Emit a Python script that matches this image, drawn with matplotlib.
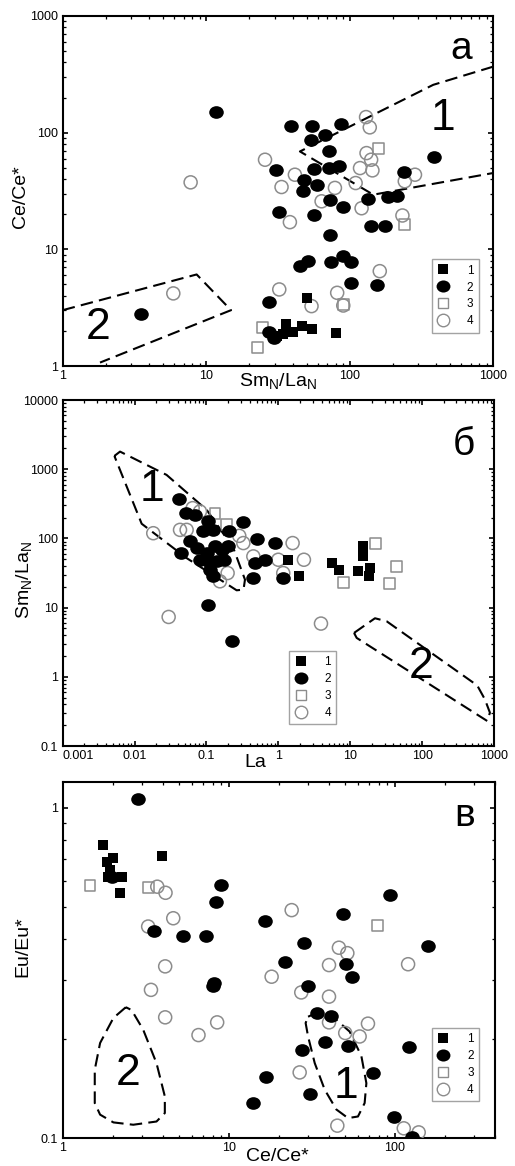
import matplotlib
matplotlib.use("Agg")
import matplotlib.pyplot as plt
from matplotlib.path import Path
from matplotlib.transforms import Affine2D
from matplotlib.lines import Line2D
from matplotlib.ticker import LogLocator, FixedLocator, FuncFormatter, NullFormatter

plt.rcParams['font.family'] = ['Liberation Sans', 'DejaVu Sans']
plt.rcParams['mathtext.fontset'] = 'custom'
plt.rcParams['mathtext.rm'] = 'Liberation Sans'

# ---------------- panel а: Ce/Ce* vs SmN/LaN ----------------
a_s1_x = [50.6, 35.9, 46.2, 54.2, 40.4, 30.9, 34.4, 80.1]
a_s1_y = [3.79, 2.27, 2.20, 2.06, 1.95, 1.81, 1.87, 1.93]
a_s2_x = [11.7, 39.2, 54.6, 86.3, 67.2, 53.7, 71.6, 386, 30.6, 56.0, 72.0, 84.5,
          48.2, 47.4, 58.8, 239, 32.3, 56.6, 72.8, 89.2, 134, 185, 215, 140,
          175, 72.8, 44.8, 51.2, 74.0, 90.2, 102.5, 102, 156, 27.5, 3.53, 27.5, 29.5]
a_s2_y = [149, 114, 113, 118, 94.6, 85.8, 69.9, 61.4, 48.1, 48.7, 49.7, 52.1,
          39.5, 31.8, 35.8, 45.7, 21.0, 19.8, 26.3, 22.9, 27.0, 28.1, 28.8, 15.8,
          15.8, 13.3, 7.17, 8.01, 7.86, 8.73, 7.86, 5.10, 4.90, 3.53, 2.77, 1.95, 1.75]
a_s3_x = [158, 240, 90.2, 24.7, 22.7]
a_s3_y = [73.8, 16.3, 3.36, 2.13, 1.44]
a_s4_x = [7.79, 5.90, 25.7, 41.5, 33.5, 38.3, 32.3, 54.2, 63.7, 78.9, 81.8, 130,
          138, 131, 141, 118, 144, 110, 121, 233, 242, 285, 162, 90.2]
a_s4_y = [37.5, 4.19, 58.6, 43.6, 34.2, 17.1, 4.53, 3.26, 25.8, 33.6, 4.24, 136,
          111, 66.8, 58.6, 49.7, 47.5, 37.0, 22.5, 19.5, 38.3, 43.6, 6.50, 3.30]
a_field1_x = [1000, 382, 45, 146, 1000]
a_field1_y = [368, 257, 69, 29.4, 45.1]
a_field2_x = [1.0, 8.58, 14.9, 1.82]
a_field2_y = [3.01, 6.09, 3.01, 1.07]
a_xticks = [1, 10, 100, 1000]
a_yticks = [1, 10, 100, 1000]

# ---------------- panel б: SmN/LaN vs La ----------------
b_s1_x = [1.38, 1.96, 5.51, 7.05, 14.9, 14.9, 12.9, 18.8, 18.4]
b_s1_y = [49.2, 28.3, 44.1, 34.5, 76.7, 55.0, 33.4, 37.3, 28.9]
b_s2_x = [0.0415, 0.0514, 0.0692, 0.106, 0.125, 0.0903, 0.208, 0.326, 0.499, 0.897,
          0.059, 0.0443, 0.0731, 0.1007, 0.1316, 0.1626, 0.2014, 0.0813, 0.112,
          0.139, 0.175, 0.112, 0.125, 0.473, 0.652, 0.449, 1.148, 0.106, 0.229]
b_s2_y = [369, 232, 219, 176, 133, 126, 126, 170, 97.8, 85.7, 90.5, 61.4, 72.6,
          61.4, 76.7, 68.6, 76.7, 49.2, 44.1, 46.6, 49.2, 35.3, 28.3, 44.1, 49.2,
          26.8, 26.8, 11.0, 3.34]
b_s3_x = [0.1316, 0.191, 22.8, 44.2, 34.9, 8.18]
b_s3_y = [232, 157, 85.7, 39.5, 22.2, 23.2]
b_s4_x = [0.0182, 0.0429, 0.053, 0.0643, 0.0813, 0.326, 0.449, 1.0, 1.58, 2.27,
          0.0298, 3.92, 0.197, 0.154, 1.17, 0.286]
b_s4_y = [119, 133, 133, 274, 245, 85.7, 55, 49.2, 85.7, 49.2, 7.33, 5.88, 31.6,
          24, 31.6, 109]
b_field1_x = [0.00524, 0.00628, 0.0279, 0.1007, 0.2366, 0.3436, 0.3279, 0.263, 0.053, 0.01256]
b_field1_y = [1556, 1799, 828, 259, 72.6, 25.4, 18.2, 17.8, 52, 163]
b_field2_x = [11.3, 22.1, 32.1, 585, 748, 878, 805, 12.3]
b_field2_y = [4.31, 7.02, 6.35, 0.75, 0.471, 0.303, 0.23, 3.65]
b_xticks = [0.001, 0.01, 0.1, 1, 10, 100, 1000]
b_yticks = [0.1, 1, 10, 100, 1000, 10000]

# ---------------- panel в: Eu/Eu* vs Ce/Ce* ----------------
c_s1_x = [1.74, 3.94, 2.02, 1.84, 1.93, 2.26, 2.21, 1.88]
c_s1_y = [0.771, 0.714, 0.703, 0.687, 0.648, 0.616, 0.551, 0.618]
c_s2_x = [2.85, 1.97, 8.95, 8.35, 3.57, 5.27, 7.34, 16.5, 92.9, 48.7, 159, 28.5,
          21.9, 51.0, 55.1, 8.20, 8.05, 29.9, 34.0, 41.4, 38.1, 27.6, 52.2, 121,
          73.8, 16.8, 30.7, 13.9, 98.6, 127]
c_s2_y = [1.06, 0.618, 0.584, 0.519, 0.425, 0.410, 0.410, 0.455, 0.543, 0.476,
          0.382, 0.389, 0.342, 0.336, 0.307, 0.294, 0.288, 0.289, 0.239, 0.234,
          0.196, 0.185, 0.190, 0.189, 0.157, 0.153, 0.136, 0.128, 0.1155, 0.1005]
c_s3_x = [1.46, 3.30, 79.0]
c_s3_y = [0.581, 0.573, 0.439]
c_s4_x = [3.71, 4.16, 4.63, 3.27, 4.14, 3.40, 4.14, 8.51, 6.57, 18.1, 23.9, 27.3,
          40.1, 40.1, 46.0, 51.7, 40.1, 50.2, 61.3, 68.8, 26.7, 120, 45.0, 113, 139]
c_s4_y = [0.577, 0.553, 0.463, 0.437, 0.331, 0.281, 0.232, 0.224, 0.205, 0.308,
          0.490, 0.276, 0.334, 0.268, 0.377, 0.363, 0.224, 0.208, 0.203, 0.222,
          0.158, 0.336, 0.109, 0.107, 0.104]
c_field2_x = [2.40, 2.02, 1.68, 1.56, 1.56, 1.68, 2.02, 2.66, 3.67, 4.12, 4.12, 3.67, 3.05, 2.60]
c_field2_y = [0.249, 0.231, 0.194, 0.161, 0.1276, 0.1177, 0.1115, 0.1097, 0.1122,
              0.119, 0.1337, 0.1686, 0.213, 0.244]
c_field1_x = [30.0, 32.9, 44.4, 53.4, 62.8, 67.3, 65.7, 59.9, 52.2, 44.4, 37.8, 32.9, 30.0, 29.0]
c_field1_y = [0.233, 0.238, 0.228, 0.210, 0.177, 0.1466, 0.1276, 0.1162, 0.1149,
              0.122, 0.140, 0.1686, 0.203, 0.223]
c_xticks = [1, 10, 100]
c_yticks = [0.1, 1]

legend_labels = ["1", "2", "3", "4"]

GRAY = "#8c8c8c"
_circ = Path.unit_circle()
ELLIPSE = Path(Affine2D().scale(1.15, 1.0).transform(_circ.vertices), _circ.codes)

STYLE = [
    dict(marker='s', s=62, c='black', linewidths=0),
    dict(marker=ELLIPSE, s=110, c='black', linewidths=0),
    dict(marker='s', s=62, facecolors='none', edgecolors=GRAY, linewidths=1.1),
    dict(marker='o', s=88, facecolors='none', edgecolors=GRAY, linewidths=1.1),
]
HANDLES = [
    Line2D([], [], ls='none', marker='s', ms=7.5, mfc='black', mec='black', mew=0),
    Line2D([], [], ls='none', marker=ELLIPSE, ms=10, mfc='black', mec='black', mew=0),
    Line2D([], [], ls='none', marker='s', ms=7.5, mfc='none', mec=GRAY, mew=1.0),
    Line2D([], [], ls='none', marker='o', ms=9, mfc='none', mec=GRAY, mew=1.0),
]
DASH = dict(color='black', lw=1.5, ls=(0, (6, 3)))
LABEL_SIZE = 14

fig = plt.figure(figsize=(5.15, 11.66), dpi=100)
ax_a = fig.add_axes([0.1217, 0.6861, 0.836, 0.3002])
ax_b = fig.add_axes([0.1217, 0.3602, 0.8375, 0.2967])
ax_c = fig.add_axes([0.1217, 0.0240, 0.8394, 0.3056])

fmt = FuncFormatter(lambda v, _: f"{v:g}")


def style_axes(ax, xlim, ylim, xticks, yticks):
    ax.set_xscale('log')
    ax.set_yscale('log')
    ax.set_xlim(*xlim)
    ax.set_ylim(*ylim)
    for sp in ax.spines.values():
        sp.set_linewidth(1.5)
    ax.tick_params(which='both', direction='in', top=True, right=True, labelsize=9)
    ax.tick_params(axis='x', which='both', pad=3)
    ax.tick_params(axis='y', which='both', pad=3.5)
    ax.tick_params(which='major', length=3.5, width=1.2)
    ax.tick_params(which='minor', length=2, width=0.9)
    for axis, ticks in ((ax.xaxis, xticks), (ax.yaxis, yticks)):
        axis.set_major_locator(FixedLocator(ticks))
        axis.set_minor_locator(LogLocator(base=10, subs=range(2, 10), numticks=12))
        axis.set_major_formatter(fmt)
        axis.set_minor_formatter(NullFormatter())


def draw_points(ax, xs, ys):
    for i in [2, 3, 1, 0]:
        ax.scatter(xs[i], ys[i], zorder=3 + (i in (0, 1)), **STYLE[i])


def add_legend(ax, anchor):
    leg = ax.legend(HANDLES, legend_labels, loc='upper right', bbox_to_anchor=anchor,
                    fontsize=8.5, frameon=True, fancybox=False, handlelength=1.0,
                    handletextpad=1.5, labelspacing=0.42, borderpad=0.45,
                    borderaxespad=0.0)
    leg.get_frame().set_edgecolor(GRAY)
    leg.get_frame().set_linewidth(1.0)
    leg.set_zorder(6)


def set_labels(ax, xlabel, xpos, ylabel, ypos):
    ax.set_xlabel(xlabel, fontsize=LABEL_SIZE)
    ax.xaxis.set_label_coords(*xpos)
    ax.xaxis.label.set_verticalalignment('center')
    ax.set_ylabel(ylabel, fontsize=LABEL_SIZE)
    ax.yaxis.set_label_coords(*ypos)
    ax.yaxis.label.set_verticalalignment('center')


SMLA = r"Sm$_\mathregular{N}$/La$_\mathregular{N}$"

# panel а
style_axes(ax_a, (1, 1000), (1, 1000), a_xticks, a_yticks)
draw_points(ax_a, [a_s1_x, a_s2_x, a_s3_x, a_s4_x], [a_s1_y, a_s2_y, a_s3_y, a_s4_y])
ax_a.plot(a_field1_x, a_field1_y, **DASH)
ax_a.plot(a_field2_x, a_field2_y, **DASH)
ax_a.text(448, 133, "1", fontsize=32, ha='center', va='center')
ax_a.text(1.77, 2.13, "2", fontsize=32, ha='center', va='center')
ax_a.text(0.925, 0.905, "а", transform=ax_a.transAxes, fontsize=28, ha='center', va='center')
set_labels(ax_a, SMLA, (0.5, -0.045), "Ce/Ce*", (-0.097, 0.483))
add_legend(ax_a, (0.966, 0.305))

# panel б
style_axes(ax_b, (0.001, 1000), (0.1, 10000), b_xticks, b_yticks)
draw_points(ax_b, [b_s1_x, b_s2_x, b_s3_x, b_s4_x], [b_s1_y, b_s2_y, b_s3_y, b_s4_y])
ax_b.plot(b_field1_x + b_field1_x[:1], b_field1_y + b_field1_y[:1], **DASH)
ax_b.plot(b_field2_x + b_field2_x[:1], b_field2_y + b_field2_y[:1], **DASH)
ax_b.text(0.0173, 504, "1", fontsize=32, ha='center', va='center')
ax_b.text(98, 1.43, "2", fontsize=32, ha='center', va='center')
ax_b.text(0.93, 0.87, "б", transform=ax_b.transAxes, fontsize=28, ha='center', va='center')
set_labels(ax_b, "La", (0.446, -0.049), SMLA, (-0.087, 0.48))
add_legend(ax_b, (0.634, 0.275))

# panel в
style_axes(ax_c, (1, 400), (0.1, 1.2), c_xticks, c_yticks)
draw_points(ax_c, [c_s1_x, c_s2_x, c_s3_x, c_s4_x], [c_s1_y, c_s2_y, c_s3_y, c_s4_y])
ax_c.plot(c_field2_x + c_field2_x[:1], c_field2_y + c_field2_y[:1], **DASH)
ax_c.plot(c_field1_x + c_field1_x[:1], c_field1_y + c_field1_y[:1], **DASH)
ax_c.text(2.48, 0.157, "2", fontsize=32, ha='center', va='center')
ax_c.text(51, 0.143, "1", fontsize=32, ha='center', va='center')
ax_c.text(0.93, 0.905, "в", transform=ax_c.transAxes, fontsize=28, ha='center', va='center')
set_labels(ax_c, "Ce/Ce*", (0.496, -0.053), "Eu/Eu*", (-0.092, 0.537))
add_legend(ax_c, (0.963, 0.309))

# left-align the corner tick label of panel б so it stays clear of the y-axis "0.1"
fig.canvas.draw()
for t in ax_b.xaxis.get_major_ticks():
    if abs(t.get_loc() - 0.001) < 1e-9:
        t.label1.set_horizontalalignment('left')

fig.savefig("out.png", dpi=100)
